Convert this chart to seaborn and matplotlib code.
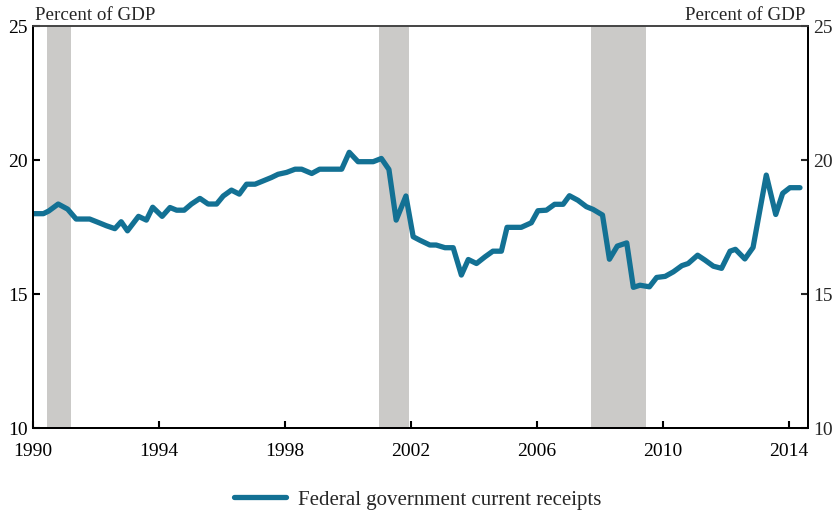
import pandas as pd
import seaborn as sns
import matplotlib.pyplot as plt

dates = [1990.0, 1990.33, 1990.5, 1990.8, 1991.1, 1991.37, 1991.8, 1992.1, 1992.33, 1992.6,
         1992.8, 1993.0, 1993.35, 1993.6, 1993.8, 1994.1, 1994.35, 1994.56, 1994.8, 1995.03,
         1995.3, 1995.56, 1995.83, 1996.04, 1996.3, 1996.55, 1996.78, 1997.05, 1997.3, 1997.57,
         1997.78, 1998.05, 1998.32, 1998.53, 1998.85, 1999.1, 1999.8, 2000.04, 2000.32, 2000.8,
         2001.06, 2001.3, 2001.53, 2001.84, 2002.07, 2002.28, 2002.6, 2002.8, 2003.08, 2003.34,
         2003.6, 2003.82, 2004.08, 2004.35, 2004.6, 2004.87, 2005.05, 2005.5, 2005.82, 2006.03,
         2006.3, 2006.56, 2006.83, 2007.03, 2007.3, 2007.57, 2007.78, 2008.08, 2008.3, 2008.55,
         2008.85, 2009.06, 2009.27, 2009.57, 2009.8, 2010.07, 2010.33, 2010.6, 2010.8, 2011.1,
         2011.33, 2011.6, 2011.86, 2012.13, 2012.3, 2012.6, 2012.86, 2013.28, 2013.58, 2013.8,
         2014.03, 2014.35]
receipts = [18.0, 18.0, 18.1, 18.36, 18.17, 17.8, 17.8, 17.66, 17.55, 17.44,
            17.7, 17.36, 17.9, 17.76, 18.24, 17.9, 18.23, 18.13, 18.13, 18.36,
            18.57, 18.36, 18.36, 18.66, 18.88, 18.73, 19.1, 19.1, 19.22, 19.35,
            19.47, 19.54, 19.66, 19.66, 19.5, 19.66, 19.66, 20.29, 19.94, 19.94,
            20.06, 19.65, 17.76, 18.66, 17.14, 17.01, 16.83, 16.83, 16.73, 16.73,
            15.71, 16.29, 16.14, 16.39, 16.6, 16.6, 17.49, 17.49, 17.66, 18.11,
            18.13, 18.35, 18.35, 18.67, 18.5, 18.26, 18.16, 17.95, 16.3, 16.79,
            16.91, 15.25, 15.33, 15.27, 15.62, 15.66, 15.83, 16.06, 16.14, 16.45,
            16.27, 16.04, 15.96, 16.6, 16.67, 16.31, 16.74, 19.44, 17.97, 18.76,
            18.97, 18.97]

recession_start = [1990.45, 2001.0, 2007.7]
recession_end = [1991.2, 2001.95, 2009.45]

x_ticks = [1990, 1994, 1998, 2002, 2006, 2010, 2014]
y_ticks = [10, 15, 20, 25]

df = pd.DataFrame({'date': dates, 'value': receipts})

sns.set_style('ticks')
plt.rcParams['font.family'] = ['Liberation Serif', 'DejaVu Serif']

fig = plt.figure(figsize=(8.35, 5.12), dpi=100)
ax = fig.add_axes([0.0395, 0.164, 0.928, 0.785])

for s, e in zip(recession_start, recession_end):
    ax.axvspan(s, e, color='#cbcac8', lw=0, zorder=0)

sns.lineplot(data=df, x='date', y='value', ax=ax, color='#137194', lw=3.8,
             label='Federal government current receipts', legend=False)

ax.set_xlim(1990, 2014.6)
ax.set_ylim(10, 25)
ax.set_xticks(x_ticks)
ax.set_yticks(y_ticks)
ax.set_xlabel('')
ax.set_ylabel('')
ax.tick_params(direction='in', length=5, width=1.5, labelsize=14, colors='black')
ax.tick_params(axis='x', pad=11)
ax.tick_params(axis='y', pad=4)

ax2 = ax.twinx()
ax2.set_ylim(10, 25)
ax2.set_yticks(y_ticks)
ax2.tick_params(direction='in', length=5, width=1.5, labelsize=14, pad=4)

for a in (ax, ax2):
    for side in ['left', 'right', 'bottom']:
        a.spines[side].set_color('black')
        a.spines[side].set_linewidth(1.4)
    a.spines['top'].set_color('#444444')
    a.spines['top'].set_linewidth(1.2)

ax.text(0.003, 1.005, 'Percent of GDP', transform=ax.transAxes, ha='left', va='bottom', fontsize=13.7)
ax.text(0.997, 1.005, 'Percent of GDP', transform=ax.transAxes, ha='right', va='bottom', fontsize=13.7)

handles, labels = ax.get_legend_handles_labels()
fig.legend(handles, labels, loc='lower center', bbox_to_anchor=(0.5, -0.032), frameon=False,
           fontsize=15, handlelength=2.5, handletextpad=0.6)

plt.savefig('out.png', dpi=100)
